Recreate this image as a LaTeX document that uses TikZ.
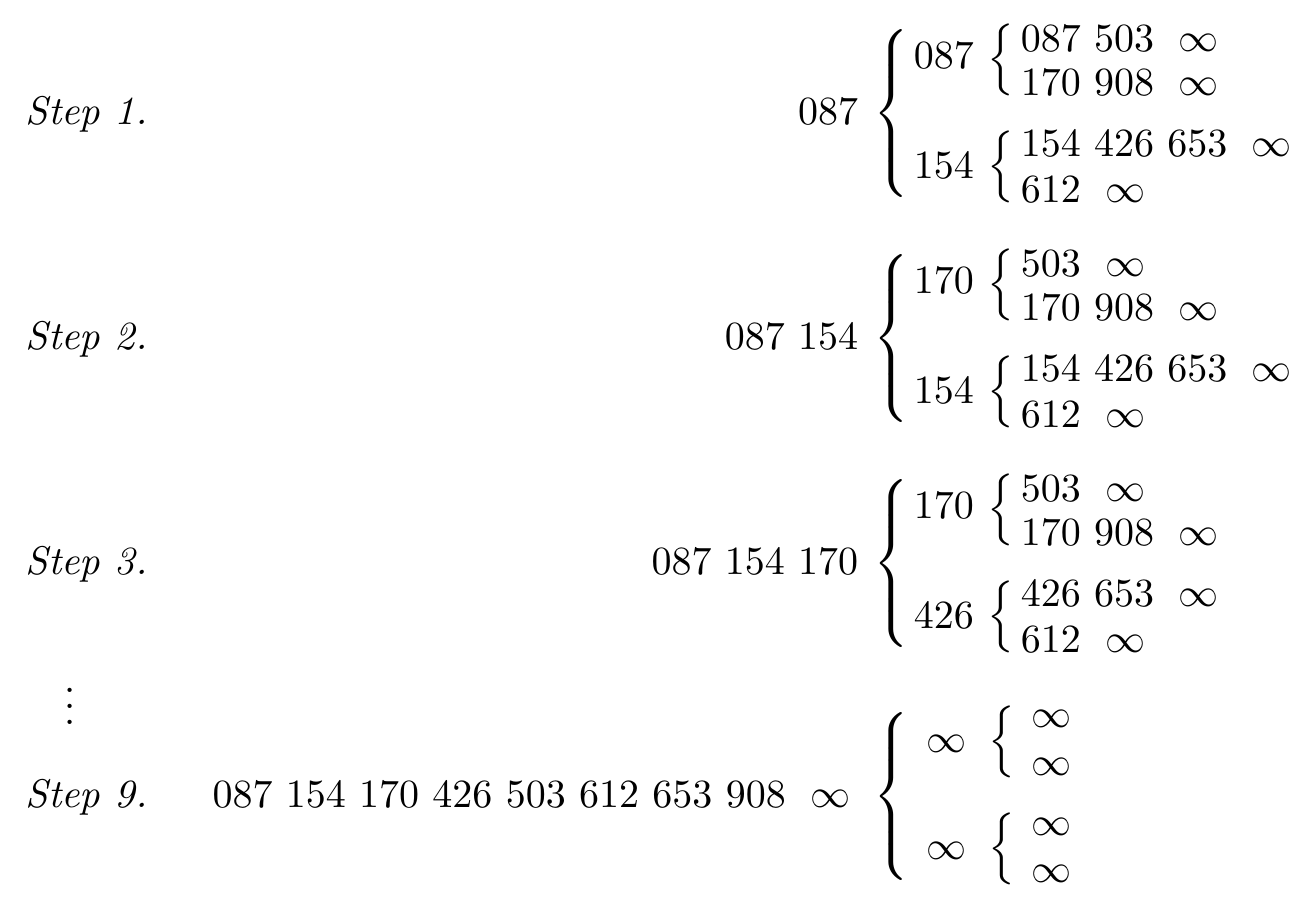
\documentclass[tikz,border=0pt]{standalone}
\usepackage{amsmath}
\begin{document}
\begin{tikzpicture}[x=0.25pt,y=-0.25pt,
  every node/.style={inner sep=0pt},
  steplab/.style={anchor=base west},
  seq/.style={anchor=base east},
  part/.style={anchor=base west},
  bigbrace/.style={anchor=center},
  smallbrace/.style={anchor=center}]
\useasboundingbox (0,0) rectangle (1310,902);

% step labels
\node[steplab] (s1) at (25,124) {\textit{Step 1.}};
\node[steplab] (s2) at (25,349) {\textit{Step 2.}};
\node[steplab] (s3) at (25,574) {\textit{Step 3.}};
\node[anchor=center] (dots) at (70,694) {$\vdots$};
\node[steplab] (s9) at (25,807) {\textit{Step 9.}};

% sorted part
\node[seq] (q1) at (859,124) {$087$};
\node[seq] (q2) at (859,349) {$087\ 154$};
\node[seq] (q3) at (859,574) {$087\ 154\ 170$};
\node[seq] (q9) at (851,807) {$087\ 154\ 170\ 426\ 503\ 612\ 653\ 908\ \;\infty$};

% big braces
\node[bigbrace] (b1) at (891,113) {$\nulldelimiterspace=0pt\left\{\vcenter{\hbox{\rule{0pt}{44pt}}}\right.$};
\node[bigbrace] (b2) at (891,338) {$\nulldelimiterspace=0pt\left\{\vcenter{\hbox{\rule{0pt}{44pt}}}\right.$};
\node[bigbrace] (b3) at (891,563) {$\nulldelimiterspace=0pt\left\{\vcenter{\hbox{\rule{0pt}{44pt}}}\right.$};
\node[bigbrace] (b9) at (891,796) {$\nulldelimiterspace=0pt\left\{\vcenter{\hbox{\rule{0pt}{44pt}}}\right.$};

% winners
\node[part] (m1a) at (913,68) {$087$};
\node[part] (m1b) at (913,178) {$154$};
\node[part] (m2a) at (913,293) {$170$};
\node[part] (m2b) at (913,403) {$154$};
\node[part] (m3a) at (913,518) {$170$};
\node[part] (m3b) at (913,628) {$426$};
\node[part] (m9a) at (926,752) {$\infty$};
\node[part] (m9b) at (926,859) {$\infty$};

% small braces
\node[smallbrace] (c1a) at (1001,60) {$\Big\{$};
\node[smallbrace] (c1b) at (1001,167) {$\Big\{$};
\node[smallbrace] (c2a) at (1001,285) {$\Big\{$};
\node[smallbrace] (c2b) at (1001,392) {$\Big\{$};
\node[smallbrace] (c3a) at (1001,510) {$\Big\{$};
\node[smallbrace] (c3b) at (1001,617) {$\Big\{$};
\node[smallbrace] (c9a) at (1002,742) {$\Big\{$};
\node[smallbrace] (c9b) at (1002,849) {$\Big\{$};

% runs
\node[part] (r1a) at (1020,51) {$087\ 503\ \;\infty$};
\node[part] (r1b) at (1020,95) {$170\ 908\ \;\infty$};
\node[part] (r1c) at (1020,156) {$154\ 426\ 653\ \;\infty$};
\node[part] (r1d) at (1020,202) {$612\ \;\infty$};
\node[part] (r2a) at (1020,276) {$503\ \;\infty$};
\node[part] (r2b) at (1020,320) {$170\ 908\ \;\infty$};
\node[part] (r2c) at (1020,381) {$154\ 426\ 653\ \;\infty$};
\node[part] (r2d) at (1020,427) {$612\ \;\infty$};
\node[part] (r3a) at (1020,501) {$503\ \;\infty$};
\node[part] (r3b) at (1020,545) {$170\ 908\ \;\infty$};
\node[part] (r3c) at (1020,606) {$426\ 653\ \;\infty$};
\node[part] (r3d) at (1020,652) {$612\ \;\infty$};
\node[part] (r9a) at (1031,727) {$\infty$};
\node[part] (r9b) at (1031,775) {$\infty$};
\node[part] (r9c) at (1031,835) {$\infty$};
\node[part] (r9d) at (1031,882) {$\infty$};
\end{tikzpicture}
\end{document}
